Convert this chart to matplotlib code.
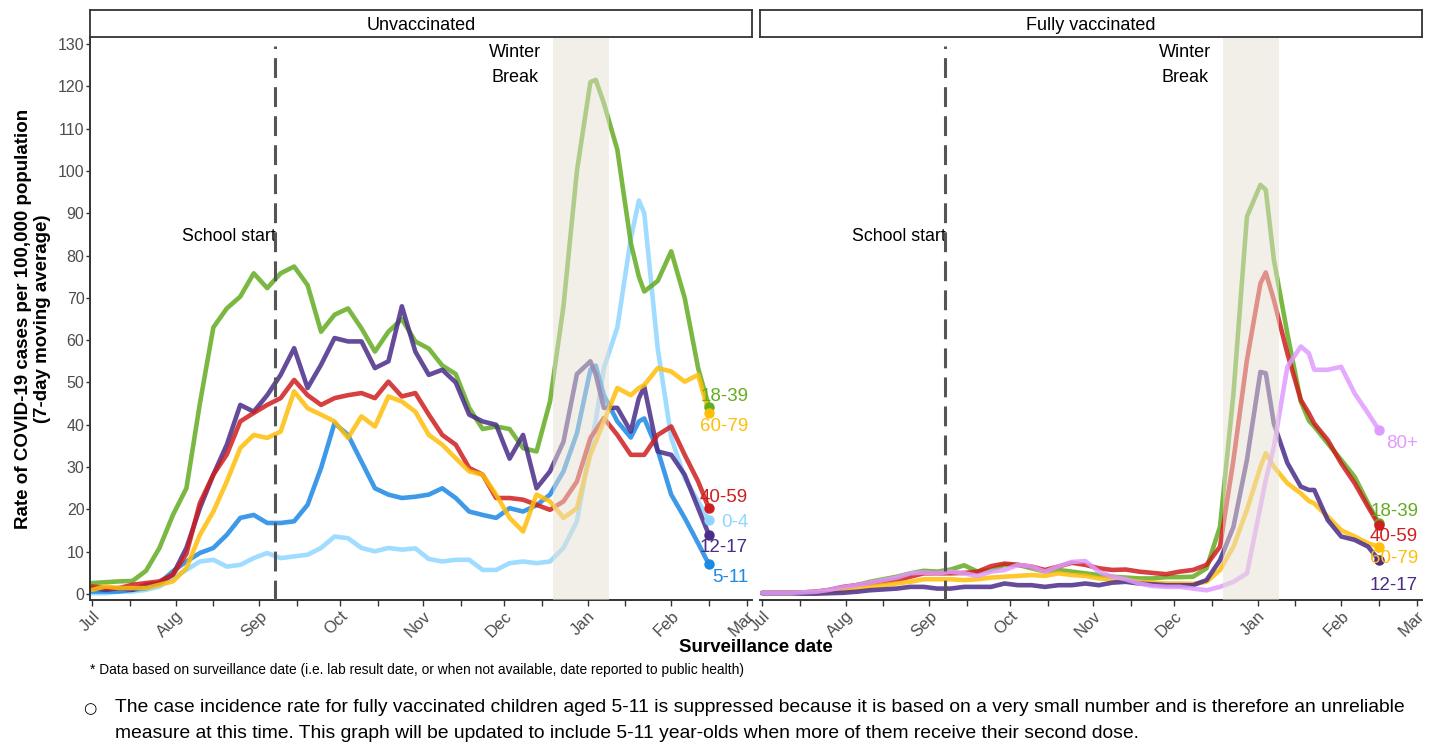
import numpy as np
import matplotlib
matplotlib.use("Agg")
import matplotlib.pyplot as plt
import matplotlib.dates as mdates

plt.rcParams['font.family'] = ['Liberation Sans', 'DejaVu Sans']

# days since 2021-07-01 at which the 7-day moving average is sampled
days = [0, 5, 10, 15, 20, 25, 30, 35, 40, 45, 50, 55, 60, 65, 70, 75, 80, 85, 90, 95,
        100, 105, 110, 115, 120, 125, 130, 135, 140, 145, 150, 155, 160, 165, 170, 175,
        180, 185, 187, 190, 195, 200, 203, 205, 210, 215, 220, 225, 229]

# unvaccinated, rate per 100,000
unvax_0_4 = [0.2, 0.2, 0.6, 0.6, 1.0, 1.8, 3.8, 5.7, 7.7, 8.1, 6.5, 6.9, 8.5, 9.7, 8.5, 8.9,
             9.3, 10.9, 13.6, 13.2, 10.9, 10.1, 10.9, 10.5, 10.8, 8.3, 7.7, 8.1, 8.1, 5.7,
             5.7, 7.3, 7.7, 7.3, 7.7, 10.9, 17.2, 35, 41, 53.4, 63, 84, 93, 90, 58, 37,
             27.4, 21.9, 17.6]
unvax_5_11 = [0.6, 0.6, 0.6, 1.0, 1.4, 2.6, 5.4, 7.7, 9.7, 10.9, 14, 18, 18.7, 16.8, 16.8,
              17.2, 21.1, 29.8, 40.4, 37.6, 31.3, 25, 23.5, 22.7, 23, 23.5, 25, 22.7, 19.5,
              18.7, 18, 20.3, 19.5, 21, 23.5, 29, 38, 53, 54, 47, 40.8, 37, 40.8, 41.5, 34,
              23.5, 18, 12, 7]
unvax_12_17 = [1.4, 1.0, 1.4, 1.0, 2.2, 2.6, 4.6, 10.9, 20.3, 28.2, 35.3, 44.7, 43.1, 47,
               51.8, 58.1, 48.7, 54.2, 60.5, 59.7, 59.7, 53.4, 55, 68, 57.3, 51.8, 53, 50,
               42.4, 40.8, 40, 32, 37.6, 25, 29, 36, 52, 55, 51.8, 44, 44, 38.4, 46.3, 49,
               33.7, 32.9, 28.2, 20.3, 14]
unvax_18_39 = [2.6, 2.8, 3.0, 3.1, 5.5, 10.9, 18.7, 25, 45, 63, 67.5, 70.3, 75.8, 72.3, 75.8,
               77.4, 73, 62, 66, 67.5, 62.8, 57.3, 62, 65, 59.7, 58, 54, 52, 44, 39, 39.6,
               39, 34.5, 33.7, 45.5, 68, 100, 121, 121.5, 116, 105, 83, 75, 71.5, 74, 81,
               70, 53.4, 44.3]
unvax_40_59 = [1.8, 1.4, 1.4, 2.2, 2.6, 3.0, 4.6, 9.5, 21.5, 28.2, 33, 40.8, 42.8, 44.7,
               46.3, 50.6, 47, 44.7, 46.3, 47, 47.5, 46.3, 50.2, 46.7, 47.5, 42.4, 37.6,
               35.3, 29.8, 28.2, 22.7, 22.7, 22.3, 21.1, 19.9, 21.9, 26.6, 36.9, 38.7, 41.6,
               37.6, 32.9, 32.9, 32.9, 37.6, 39.6, 32.9, 26.6, 20.3]
unvax_60_79 = [1.0, 1.8, 1.4, 1.4, 1.4, 2.2, 3.0, 6.1, 14, 19.5, 26.6, 34.5, 37.6, 36.9, 38.4,
               47.9, 43.9, 42.4, 40.8, 36.9, 42, 39.6, 46.7, 45.5, 43.1, 37.6, 35.3, 32.1,
               29, 28.2, 23.5, 18, 14.8, 23.5, 21.9, 18, 20.3, 32.9, 36, 40.8, 48.7, 47,
               48.7, 49.4, 53.4, 52.6, 50.2, 51.8, 42.8]

# fully vaccinated, rate per 100,000
vax_12_17 = [0.2, 0.2, 0.2, 0.1, 0.1, 0.2, 0.3, 0.55, 0.9, 1.1, 1.3, 1.7, 1.7, 1.3, 1.3, 1.7,
             1.7, 1.7, 2.5, 2.1, 2.1, 1.7, 2.1, 2.1, 2.5, 2.1, 2.7, 2.9, 2.5, 2.3, 2.1, 2.1,
             2.1, 3.3, 8, 15.9, 31.7, 52.5, 52.2, 40.3, 31, 25.4, 24.6, 24.6, 17.5, 13.6,
             12.8, 11.2, 8.0]
vax_18_39 = [0.3, 0.3, 0.3, 0.4, 0.55, 0.9, 1.3, 2.1, 2.9, 3.5, 4.1, 4.9, 5.5, 5.3, 5.8, 6.8,
             5.3, 5.7, 6.9, 6.9, 6.1, 5.3, 5.7, 5.3, 4.9, 4.5, 4.1, 3.9, 3.7, 3.7, 4.0, 4.0,
             4.1, 6.1, 15.9, 47.4, 89.2, 96.7, 95.5, 79, 61.6, 45.5, 41, 39.6, 35.6, 31.7,
             27.7, 21.4, 16.7]
vax_40_59 = [0.3, 0.3, 0.3, 0.4, 0.55, 1.0, 1.7, 2.1, 2.5, 2.9, 3.3, 4.1, 4.9, 4.9, 4.9, 5.0,
             5.3, 6.6, 7.2, 6.9, 6.5, 5.7, 6.5, 7.4, 6.9, 6.1, 5.7, 5.8, 5.3, 5.0, 4.7, 5.3,
             5.7, 6.9, 11.2, 31.7, 55.3, 73.4, 76, 69.5, 56.9, 45.9, 42.7, 40.3, 36.4, 30.9,
             26.2, 20.6, 16.3]
vax_60_79 = [0.2, 0.2, 0.2, 0.3, 0.3, 0.6, 0.9, 1.3, 1.7, 2.1, 2.5, 2.9, 3.5, 3.5, 3.5, 3.3,
             3.5, 3.9, 4.1, 4.3, 4.5, 4.3, 4.9, 4.5, 4.3, 3.7, 3.5, 3.3, 2.9, 2.7, 2.5, 2.5,
             2.4, 2.9, 5.7, 11.2, 19.9, 30, 33.3, 30.1, 26.2, 23.8, 22, 21.4, 18.3, 15.1,
             13.6, 12.0, 11.2]
vax_80_plus = [0.3, 0.3, 0.3, 0.4, 0.55, 1.0, 1.6, 2.1, 2.7, 3.3, 3.9, 4.9, 5.1, 4.9, 5.3,
               4.9, 4.3, 5.3, 5.7, 6.9, 6.5, 5.3, 6.5, 7.6, 7.8, 5.3, 4.1, 3.5, 2.5, 1.9, 1.7,
               1.7, 1.3, 0.9, 1.7, 2.9, 4.9, 20.6, 27, 34.8, 53.7, 58.5, 56.9, 53, 53, 53.7,
               47.4, 42.7, 38.8]

colors = {
    '0-4': '#8FD6FF',
    '5-11': '#1C89E5',
    '12-17': '#4A2C8A',
    '18-39': '#63AC22',
    '40-59': '#CF1E1E',
    '60-79': '#FFBE09',
    '80+': '#DF9BFF',
}

start = np.datetime64('2021-07-01')
dates = start + np.array(days).astype('timedelta64[D]')
school_start = np.datetime64('2021-09-07')
break_start = np.datetime64('2021-12-19')
break_end = np.datetime64('2022-01-09')

panels = [
    ('Unvaccinated',
     [('0-4', unvax_0_4), ('5-11', unvax_5_11), ('18-39', unvax_18_39),
      ('12-17', unvax_12_17), ('40-59', unvax_40_59), ('60-79', unvax_60_79)],
     {'18-39': 46.6, '60-79': 39.5, '40-59': 22.9, '0-4': 17.0, '12-17': 10.9, '5-11': 4.0}),
    ('Fully vaccinated',
     [('18-39', vax_18_39), ('40-59', vax_40_59), ('60-79', vax_60_79),
      ('12-17', vax_12_17), ('80+', vax_80_plus)],
     {'80+': 35.5, '18-39': 19.4, '40-59': 13.7, '60-79': 8.5, '12-17': 2.1}),
]

fig = plt.figure(figsize=(14.33, 7.47), dpi=100)
ax_left = [90 / 1433, 760 / 1433]
ax_w = 662 / 1433
ax_bottom = 1 - 600 / 747
ax_h = 562 / 747
axis_col = '#333333'
tick_col = '#4D4D4D'

for i, (title, series, label_y) in enumerate(panels):
    ax = fig.add_axes([ax_left[i], ax_bottom, ax_w, ax_h])

    for lab, vals in series:
        ax.plot(dates, vals, color=colors[lab], lw=3.3, alpha=0.85,
                solid_joinstyle='round', solid_capstyle='round', zorder=2)
    for lab, vals in series:
        ax.plot(dates[-1], vals[-1], 'o', color=colors[lab], ms=6.5, zorder=5)
        ax.text(start + np.timedelta64(243 * 24 + 14, 'h'), label_y[lab], lab,
                color=colors[lab], fontsize=13.5, ha='right', va='center', zorder=6)

    # winter break, drawn over the lines so they fade inside it
    ax.axvspan(break_start, break_end, color='#E7E0D2', alpha=0.5, lw=0, zorder=3)
    ax.axvline(school_start, ymax=0.985, color='#555555', lw=2.2, dashes=(6.5, 3), zorder=4)
    ax.text(school_start, 84.6, 'School start', ha='right', va='center', fontsize=12.8)
    mid = break_start - np.timedelta64(14, 'D')
    ax.text(mid, 127.9, 'Winter', ha='center', va='center', fontsize=13)
    ax.text(mid, 122.0, 'Break', ha='center', va='center', fontsize=13)

    ax.set_xlim(start - np.timedelta64(19, 'h'), start + np.timedelta64(245, 'D'))
    ax.set_ylim(-1.4, 131.4)
    ax.xaxis.set_major_locator(mdates.MonthLocator())
    ax.xaxis.set_minor_locator(mdates.MonthLocator(bymonthday=15))
    ax.xaxis.set_major_formatter(mdates.DateFormatter('%b'))
    ax.tick_params(axis='x', which='both', length=4, width=1, color=axis_col,
                   labelsize=12, labelcolor=tick_col, pad=2)
    for t in ax.get_xticklabels():
        t.set_rotation(45)
        t.set_ha('right')
        t.set_rotation_mode('anchor')

    for s in ['top', 'right']:
        ax.spines[s].set_visible(False)
    ax.spines['bottom'].set_color(axis_col)
    ax.spines['bottom'].set_linewidth(1.4)
    if i == 0:
        ax.set_yticks(range(0, 131, 10))
        ax.tick_params(axis='y', length=3, width=1, color=axis_col,
                       labelsize=11.5, labelcolor=tick_col, pad=1)
        ax.spines['left'].set_color(axis_col)
        ax.spines['left'].set_linewidth(1.4)
    else:
        ax.spines['left'].set_visible(False)
        ax.tick_params(axis='y', left=False, labelleft=False)

    # facet strip
    sax = fig.add_axes([ax_left[i], 1 - 37 / 747, ax_w, 27 / 747])
    sax.set_xticks([])
    sax.set_yticks([])
    for s in sax.spines.values():
        s.set_color(axis_col)
        s.set_linewidth(1.3)
    sax.text(0.5, 0.42, title, ha='center', va='center', fontsize=13)

fig.text(33 / 1433, 1 - 319 / 747,
         'Rate of COVID-19 cases per 100,000 population\n(7-day moving average)',
         rotation=90, ha='center', va='center', ma='center', fontsize=13.5,
         fontweight='bold')
fig.text(756 / 1433, 1 - 648 / 747, 'Surveillance date', ha='center', va='center',
         fontsize=13.5, fontweight='bold')
fig.text(90 / 1433, 1 - 670 / 747,
         '* Data based on surveillance date (i.e. lab result date, or when not available, '
         'date reported to public health)', ha='left', va='center', fontsize=9.9)

fig.text(83 / 1433, 1 - 709 / 747, '\u25cb', ha='left', va='center', fontsize=11,
         family=['DejaVu Sans'])
fig.text(115 / 1433, 1 - 708 / 747,
         'The case incidence rate for fully vaccinated children aged 5-11 is suppressed '
         'because it is based on a very small number and is therefore an unreliable',
         ha='left', va='center', fontsize=13.9)
fig.text(115 / 1433, 1 - 734 / 747,
         'measure at this time. This graph will be updated to include 5-11 year-olds '
         'when more of them receive their second dose.',
         ha='left', va='center', fontsize=13.9)

fig.savefig('out.png', dpi=100)
